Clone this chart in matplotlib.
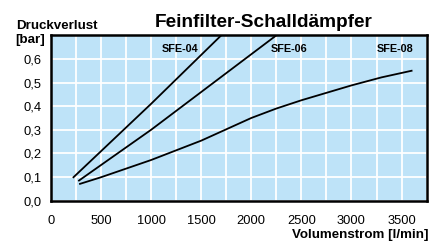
import numpy as np
import matplotlib.pyplot as plt
from matplotlib.ticker import FuncFormatter, MultipleLocator

plt.rcParams['font.family'] = ['Liberation Sans', 'DejaVu Sans']

# Durchfluss [l/min] und Druckverlust [bar]
sfe04_x = [225, 1000, 1700]
sfe04_y = [0.099, 0.41, 0.70]
sfe06_x = [280, 1000, 2250]
sfe06_y = [0.085, 0.30, 0.70]
sfe08_x = [290, 500, 1000, 1500, 2000, 2250, 2500, 3000, 3300, 3600]
sfe08_y = [0.071, 0.099, 0.172, 0.254, 0.350, 0.390, 0.425, 0.488, 0.522, 0.55]

labels = ['SFE-04', 'SFE-06', 'SFE-08']
label_x = [1290, 2380, 3437]
label_y = 0.64

fig = plt.figure(figsize=(4.43, 2.42), dpi=100)
ax = fig.add_axes([0.115, 0.171, 0.848, 0.683])
ax.set_facecolor('#bee3f8')

for xs, ys in [(sfe04_x, sfe04_y), (sfe06_x, sfe06_y), (sfe08_x, sfe08_y)]:
    ax.plot(xs, ys, color='black', lw=1.3, clip_on=True, zorder=3)

for lab, lx in zip(labels, label_x):
    ax.text(lx, label_y, lab, ha='center', va='center', fontsize=7.8,
            fontweight='bold', zorder=4)

ax.set_xlim(0, 3750)
ax.set_ylim(0, 0.7)
ax.xaxis.set_major_locator(MultipleLocator(500))
ax.xaxis.set_minor_locator(MultipleLocator(250))
ax.yaxis.set_major_locator(MultipleLocator(0.1))
ax.yaxis.set_major_formatter(FuncFormatter(lambda v, p: ('%.1f' % v).replace('.', ',') if v < 0.65 else ''))
ax.grid(True, which='both', color='white', lw=1.3, zorder=1)
ax.set_axisbelow(True)
ax.tick_params(which='both', length=0, labelsize=9.3)
ax.tick_params(axis='x', pad=10)
ax.tick_params(axis='y', pad=7)
for s in ax.spines.values():
    s.set_linewidth(1.8)

fig.text(0.596, 0.887, 'Feinfilter-Schalldämpfer', ha='center', va='baseline',
         fontsize=13.7, fontweight='bold')
fig.text(0.036, 0.88, 'Druckverlust', ha='left', va='baseline', fontsize=9.6, fontweight='bold')
fig.text(0.034, 0.822, '[bar]', ha='left', va='baseline', fontsize=9.6, fontweight='bold')
fig.text(0.968, 0.018, 'Volumenstrom [l/min]', ha='right', va='baseline', fontsize=9.6, fontweight='bold')

fig.savefig('out.png', dpi=100)
